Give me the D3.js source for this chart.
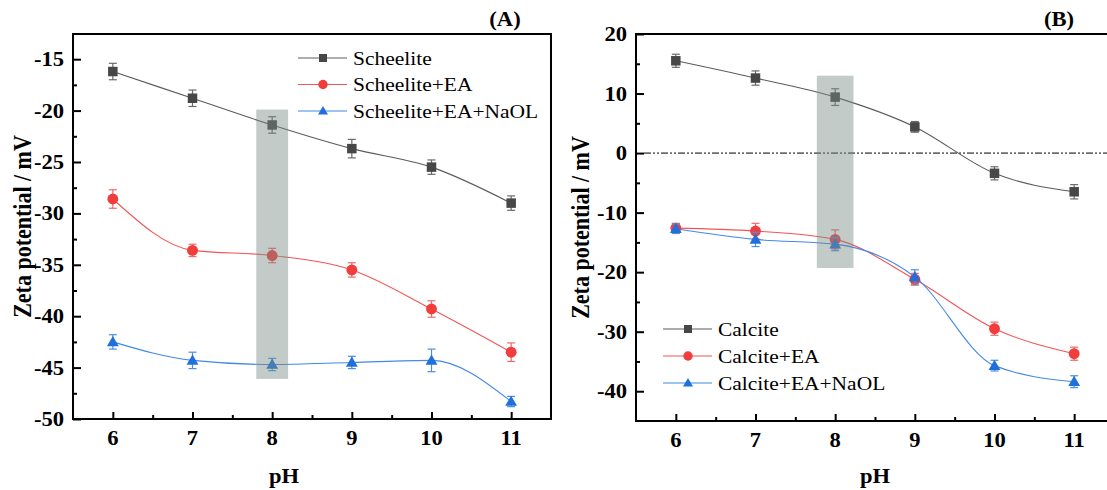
<!DOCTYPE html>
<html>
<head>
<meta charset="utf-8">
<script src="https://cdn.jsdelivr.net/npm/d3@7"></script>
<style>
  html, body { margin: 0; padding: 0; background: #fff; }
  svg text { font-family: "Liberation Serif", "Times New Roman", serif; }
</style>
</head>
<body>
<div id="chartWrap"></div>
<script>
'use strict'

// pH values shared by both panels
const phValues = [6, 7, 8, 9, 10, 11];

// Panel A - scheelite
const scheeliteZeta = [-16.2, -18.8, -21.4, -23.7, -25.5, -29.0];
const scheeliteErr = [0.8, 0.8, 0.8, 0.9, 0.7, 0.7];
const scheeliteEAZeta = [-28.6, -33.6, -34.1, -35.5, -39.3, -43.5];
const scheeliteEAErr = [0.9, 0.6, 0.7, 0.7, 0.8, 0.9];
const scheeliteNaOLZeta = [-42.5, -44.3, -44.7, -44.5, -44.3, -48.3];
const scheeliteNaOLErr = [0.7, 0.8, 0.6, 0.6, 1.1, 0.5];

// Panel B - calcite
const calciteZeta = [15.5, 12.6, 9.4, 4.4, -3.4, -6.5];
const calciteErr = [1.1, 1.2, 1.4, 0.9, 1.1, 1.2];
const calciteEAZeta = [-12.6, -13.1, -14.5, -21.2, -29.5, -33.7];
const calciteEAErr = [0.8, 1.3, 1.6, 1.0, 1.1, 1.1];
const calciteNaOLZeta = [-12.7, -14.5, -15.3, -20.8, -35.7, -38.4];
const calciteNaOLErr = [0.8, 1.2, 1.1, 1.2, 0.9, 1.0];

// tick labels
const xTicks = [6, 7, 8, 9, 10, 11];
const yTicksA = [-50, -45, -40, -35, -30, -25, -20, -15];
const yTicksB = [-40, -30, -20, -10, 0, 10, 20];

const seriesNamesA = ['Scheelite', 'Scheelite+EA', 'Scheelite+EA+NaOL'];
const seriesNamesB = ['Calcite', 'Calcite+EA', 'Calcite+EA+NaOL'];

window.addEventListener('DOMContentLoaded', function() {
    const svgWidth = 1107, svgHeight = 490;
    const sx = 1.13;   // the figure is slightly stretched sideways

    const styles = [
        { marker: 'square',   fill: '#474747', line: '#5c5c5c', err: '#6a6a6a' },
        { marker: 'circle',   fill: '#f23d3d', line: '#f25555', err: '#ee6a6a' },
        { marker: 'triangle', fill: '#1f6fdc', line: '#4389e6', err: '#4a8fe2' }
    ];

    const svg = d3.select('#chartWrap')
        .append('svg')
        .attr('width', svgWidth)
        .attr('height', svgHeight);

    // put text with a horizontal stretch about its anchor point
    function label(g, x, y, txt, size, weight, anchor, rotate) {
        return g.append('text')
            .attr('transform', `translate(${x},${y}) scale(${sx},1)` + (rotate ? ` rotate(${rotate})` : ''))
            .attr('text-anchor', anchor)
            .attr('font-size', size)
            .attr('font-weight', weight)
            .attr('fill', '#000')
            .text(txt);
    }

    function drawMarker(g, type, x, y, size, color) {
        if (type === 'square') {
            g.append('rect')
                .attr('x', x - size / 2).attr('y', y - size / 2)
                .attr('width', size).attr('height', size)
                .attr('fill', color);
        } else if (type === 'circle') {
            g.append('circle')
                .attr('cx', x).attr('cy', y).attr('r', size / 2 + 0.7)
                .attr('fill', color);
        } else {
            const h = size * 1.0, w = size * 1.25;
            g.append('path')
                .attr('d', `M${x},${y - h * 0.62}L${x + w / 2},${y + h * 0.45}L${x - w / 2},${y + h * 0.45}Z`)
                .attr('fill', color);
        }
    }

    function drawPanel(cfg) {
        const g = svg.append('g');

        const xScale = d3.scaleLinear().domain([5.5, 11.5]).range([cfg.left, cfg.right]);
        const yScale = d3.scaleLinear().domain(cfg.yDomain).range([cfg.bottom, cfg.top]);

        // frame
        g.append('rect')
            .attr('x', cfg.left).attr('y', cfg.top)
            .attr('width', cfg.right - cfg.left).attr('height', cfg.bottom - cfg.top)
            .attr('fill', 'none').attr('stroke', '#000').attr('stroke-width', 2);

        // x axis: major + minor ticks pointing inward
        const xAxis = g.append('g')
            .attr('class', 'axis axis-x')
            .attr('transform', `translate(0,${cfg.bottom})`)
            .call(d3.axisBottom(xScale).tickValues(xTicks).tickSize(-7).tickSizeOuter(0).tickFormat(''));
        xAxis.select('.domain').remove();
        xAxis.selectAll('line').attr('stroke', '#000').attr('stroke-width', 2);
        g.append('g')
            .attr('transform', `translate(0,${cfg.bottom})`)
            .call(d3.axisBottom(xScale).tickValues(xTicks.map(d => d + 0.5).slice(0, -1)).tickSize(-4).tickFormat(''))
            .call(a => a.select('.domain').remove())
            .selectAll('line').attr('stroke', '#000').attr('stroke-width', 2);
        xTicks.forEach(t => label(g, xScale(t), cfg.bottom + 26, t, 20, 'bold', 'middle'));

        // y axis
        const yMinor = cfg.yTicks.slice(0, -1).map((d, i) => (d + cfg.yTicks[i + 1]) / 2);
        const step = cfg.yTicks[1] - cfg.yTicks[0];
        const above = cfg.yTicks[cfg.yTicks.length - 1] + step / 2;
        if (above < cfg.yDomain[1]) yMinor.push(above);
        const below = cfg.yTicks[0] - step / 2;
        if (below > cfg.yDomain[0]) yMinor.push(below);
        g.append('g')
            .attr('transform', `translate(${cfg.left},0)`)
            .call(d3.axisRight(yScale).tickValues(cfg.yTicks).tickSize(8).tickFormat(''))
            .call(a => a.select('.domain').remove())
            .selectAll('line').attr('stroke', '#000').attr('stroke-width', 2);
        g.append('g')
            .attr('transform', `translate(${cfg.left},0)`)
            .call(d3.axisRight(yScale).tickValues(yMinor).tickSize(4).tickFormat(''))
            .call(a => a.select('.domain').remove())
            .selectAll('line').attr('stroke', '#000').attr('stroke-width', 2);
        cfg.yTicks.forEach(t => label(g, cfg.left - 9, yScale(t) + 7, t, 20, 'bold', 'end'));

        // axis titles and panel tag
        label(g, cfg.yLabelX, (cfg.top + cfg.bottom) / 2, 'Zeta potential / mV', 22, 'bold', 'middle', -90)
            .attr('dy', '0.35em');
        label(g, cfg.pHx, 483, 'pH', 20, 'bold', 'middle');
        label(g, cfg.tagX, 26, cfg.tag, 20, 'bold', 'middle');

        // zero reference line
        if (cfg.zeroLine) {
            g.append('line')
                .attr('x1', cfg.left + 8).attr('x2', cfg.right)
                .attr('y1', yScale(0)).attr('y2', yScale(0))
                .attr('stroke', '#000').attr('stroke-width', 1)
                .attr('stroke-dasharray', '7,2,2,2,2,2');
        }

        const line = d3.line()
            .x((d, i) => xScale(phValues[i]))
            .y(d => yScale(d))
            .curve(d3.curveMonotoneX);

        cfg.series.forEach((s, k) => {
            const st = styles[k];
            g.append('path')
                .datum(s.values)
                .attr('d', line)
                .attr('fill', 'none')
                .attr('stroke', st.line)
                .attr('stroke-width', 1.1);
        });

        cfg.series.forEach((s, k) => {
            const st = styles[k];
            s.values.forEach((v, i) => {
                const x = xScale(phValues[i]);
                const y0 = yScale(v - s.err[i]), y1 = yScale(v + s.err[i]);
                g.append('line').attr('x1', x).attr('x2', x).attr('y1', y0).attr('y2', y1)
                    .attr('stroke', st.err).attr('stroke-width', 1.2);
                [y0, y1].forEach(yy => g.append('line')
                    .attr('x1', x - 4).attr('x2', x + 4).attr('y1', yy).attr('y2', yy)
                    .attr('stroke', st.err).attr('stroke-width', 1.2));
                drawMarker(g, st.marker, x, yScale(v), 9.5, st.fill);
            });
        });

        // highlighted pH 8 band, drawn over the marks
        g.append('rect')
            .attr('x', xScale(8 - cfg.band.half)).attr('y', yScale(cfg.band.hi))
            .attr('width', xScale(8 + cfg.band.half) - xScale(8 - cfg.band.half))
            .attr('height', yScale(cfg.band.lo) - yScale(cfg.band.hi))
            .attr('fill', '#7b8c84').attr('fill-opacity', 0.45);

        // legend
        cfg.series.forEach((s, k) => {
            const st = styles[k];
            const ly = cfg.legend.y + k * cfg.legend.dy;
            g.append('line')
                .attr('x1', cfg.legend.x).attr('x2', cfg.legend.x + 49)
                .attr('y1', ly).attr('y2', ly)
                .attr('stroke', st.line).attr('stroke-width', 1.1);
            drawMarker(g, st.marker, cfg.legend.x + 25, ly, 8, st.fill);
            label(g, cfg.legend.x + 55, ly + 6.5, s.name, 19, 'normal', 'start');
        });
    }

    drawPanel({
        left: 73, right: 551, top: 34, bottom: 419,
        yDomain: [-50, -12.55], yTicks: yTicksA,
        yLabelX: 22, pHx: 284, tagX: 505, tag: '(A)',
        zeroLine: false,
        band: { half: 0.2, hi: -19.9, lo: -46.1 },
        legend: { x: 298, y: 58, dy: 26.5 },
        series: [
            { name: seriesNamesA[0], values: scheeliteZeta, err: scheeliteErr },
            { name: seriesNamesA[1], values: scheeliteEAZeta, err: scheeliteEAErr },
            { name: seriesNamesA[2], values: scheeliteNaOLZeta, err: scheeliteNaOLErr }
        ]
    });

    drawPanel({
        left: 636, right: 1114, top: 34, bottom: 421,
        yDomain: [-45, 20], yTicks: yTicksB,
        yLabelX: 580, pHx: 875, tagX: 1059, tag: '(B)',
        zeroLine: true,
        band: { half: 0.23, hi: 13, lo: -19.3 },
        legend: { x: 663, y: 329, dy: 27 },
        series: [
            { name: seriesNamesB[0], values: calciteZeta, err: calciteErr },
            { name: seriesNamesB[1], values: calciteEAZeta, err: calciteEAErr },
            { name: seriesNamesB[2], values: calciteNaOLZeta, err: calciteNaOLErr }
        ]
    });
});
</script>
</body>
</html>
